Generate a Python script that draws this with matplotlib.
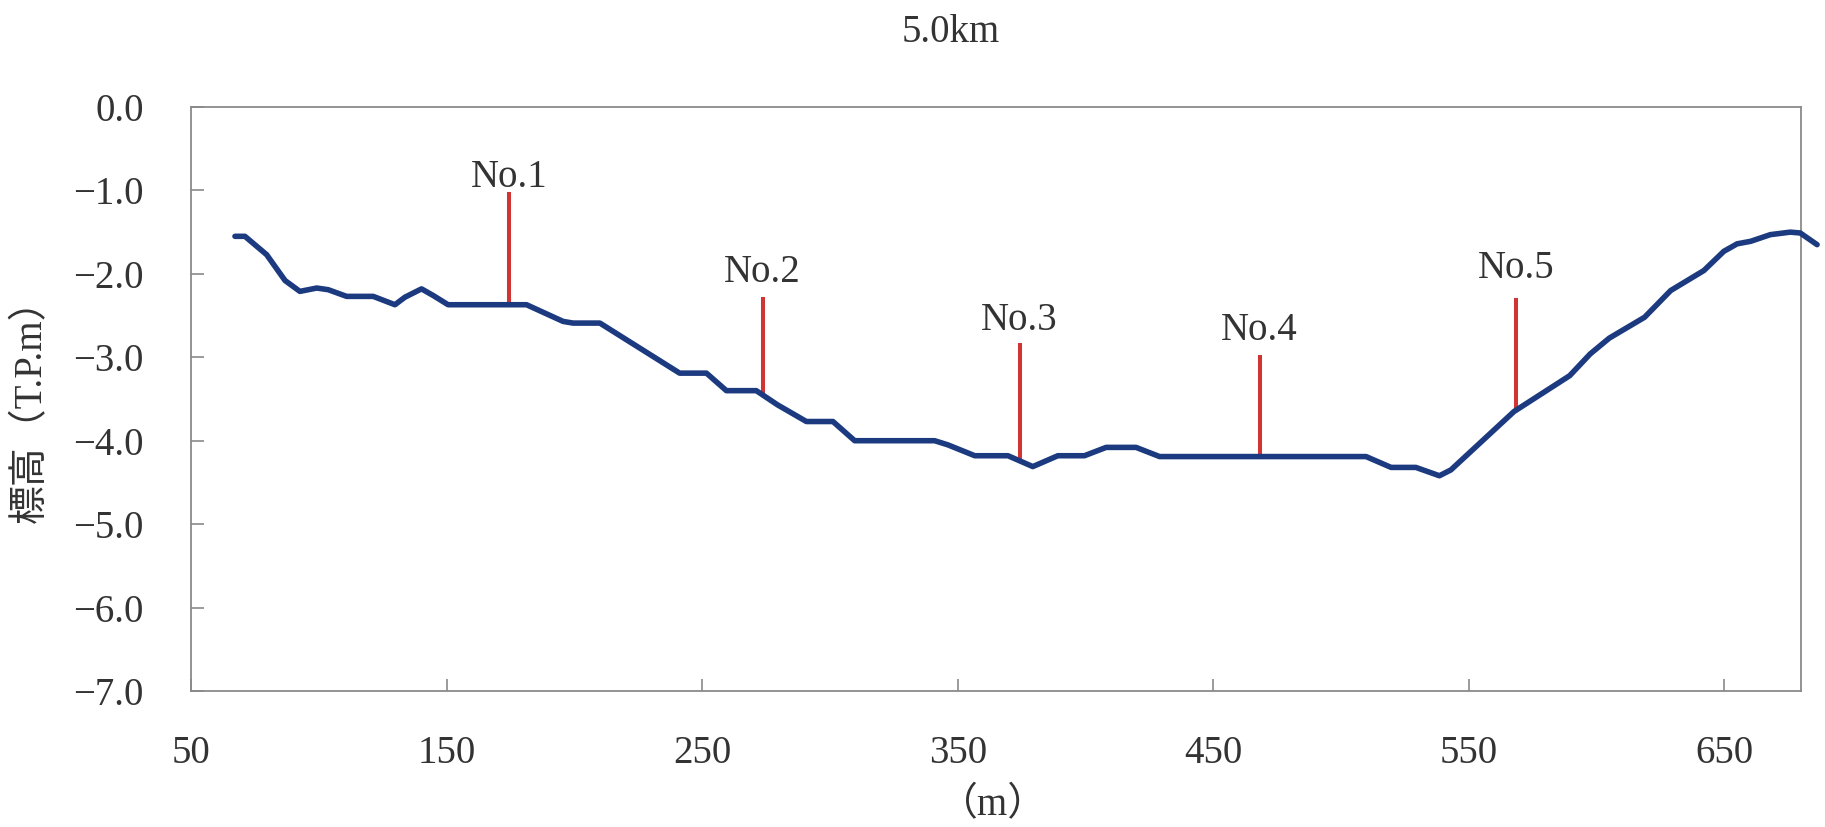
import matplotlib.pyplot as plt
import numpy as np

# cross-section profile (distance m, elevation T.P.m)
dist = [67.2, 71.1, 79.6, 86.8, 92.6, 99.2, 103.7, 110.9, 121.3, 129.8,
        133.7, 140.2, 144.8, 150.6, 181.3, 195.6, 199.5, 210.0, 228.2, 241.2,
        251.7, 259.5, 271.2, 279.5, 290.8, 301.2, 309.7, 341.0, 346.2, 356.7,
        369.7, 379.4, 389.2, 399.6, 408.1, 419.8, 429.0, 509.8, 519.6, 529.3,
        538.5, 543.0, 567.7, 589.5, 597.5, 605.0, 618.8, 629.0, 642.0, 649.8,
        655.0, 660.3, 668.0, 675.8, 679.7, 686.3]
elev = [-1.55, -1.55, -1.77, -2.08, -2.21, -2.17, -2.19, -2.27, -2.27, -2.37,
        -2.28, -2.18, -2.26, -2.37, -2.37, -2.57, -2.59, -2.59, -2.94, -3.19,
        -3.19, -3.40, -3.40, -3.57, -3.77, -3.77, -4.00, -4.00, -4.05, -4.18,
        -4.18, -4.31, -4.18, -4.18, -4.08, -4.08, -4.19, -4.19, -4.32, -4.32,
        -4.42, -4.35, -3.65, -3.22, -2.96, -2.77, -2.52, -2.20, -1.96, -1.73,
        -1.64, -1.61, -1.53, -1.50, -1.51, -1.65]

# sampling points
point_labels = ["No.1", "No.2", "No.3", "No.4", "No.5"]
point_x = [174.5, 273.7, 374.2, 468.2, 568.4]
point_top = [-1.04, -2.30, -2.85, -3.00, -2.31]
label_y = [-0.96, -2.10, -2.67, -2.79, -2.05]

x_ticks = [50, 150, 250, 350, 450, 550, 650]
y_ticks = [0.0, -1.0, -2.0, -3.0, -4.0, -5.0, -6.0, -7.0]

plt.rcParams["font.family"] = ["Liberation Serif", "Noto Sans CJK JP"]
text_color = "#333333"
spine_color = "#8a8a8a"
fs = 28

fig = plt.figure(figsize=(18.25, 8.27), dpi=100)
ax = fig.add_axes([191 / 1825, 1 - 691 / 827, 1610 / 1825, 584 / 827])

point_bottom = np.interp(point_x, dist, elev)
for lab, x, top, bot, ly in zip(point_labels, point_x, point_top, point_bottom, label_y):
    ax.plot([x, x], [bot, top], color="#d03535", linewidth=2.9, zorder=2)
    ax.text(x, ly, lab, ha="center", va="baseline", fontsize=fs, color=text_color)

ax.plot(dist, elev, color="#1c3a80", linewidth=4.0, solid_joinstyle="round",
        solid_capstyle="round", clip_on=False, zorder=3)

ax.set_xlim(50, 680)
ax.set_ylim(-7, 0)
ax.set_xticks(x_ticks)
ax.set_yticks(y_ticks)
ax.set_yticklabels([f"{v:.1f}".replace("-", "\u2212") for v in y_ticks])
ax.tick_params(axis="x", direction="in", length=9, width=1.2, color=spine_color,
               labelsize=fs, labelcolor=text_color, pad=32)
ax.tick_params(axis="y", direction="in", length=9, width=1.2, color=spine_color,
               labelsize=fs, labelcolor=text_color, pad=34)
for s in ax.spines.values():
    s.set_color(spine_color)
    s.set_linewidth(1.3)

fig.text(951 / 1825, 1 - 42 / 827, "5.0km", ha="center", va="baseline",
         fontsize=fs, color=text_color)
fig.text(993 / 1825, 1 - 815 / 827, "（m）", ha="center", va="baseline",
         fontsize=fs, color=text_color)
fig.text(32 / 1825, 0.515, "標高（T.P.m）", ha="center", va="center",
         rotation=90, fontsize=fs, color=text_color)

fig.savefig("out.png", dpi=100)
plt.close(fig)
